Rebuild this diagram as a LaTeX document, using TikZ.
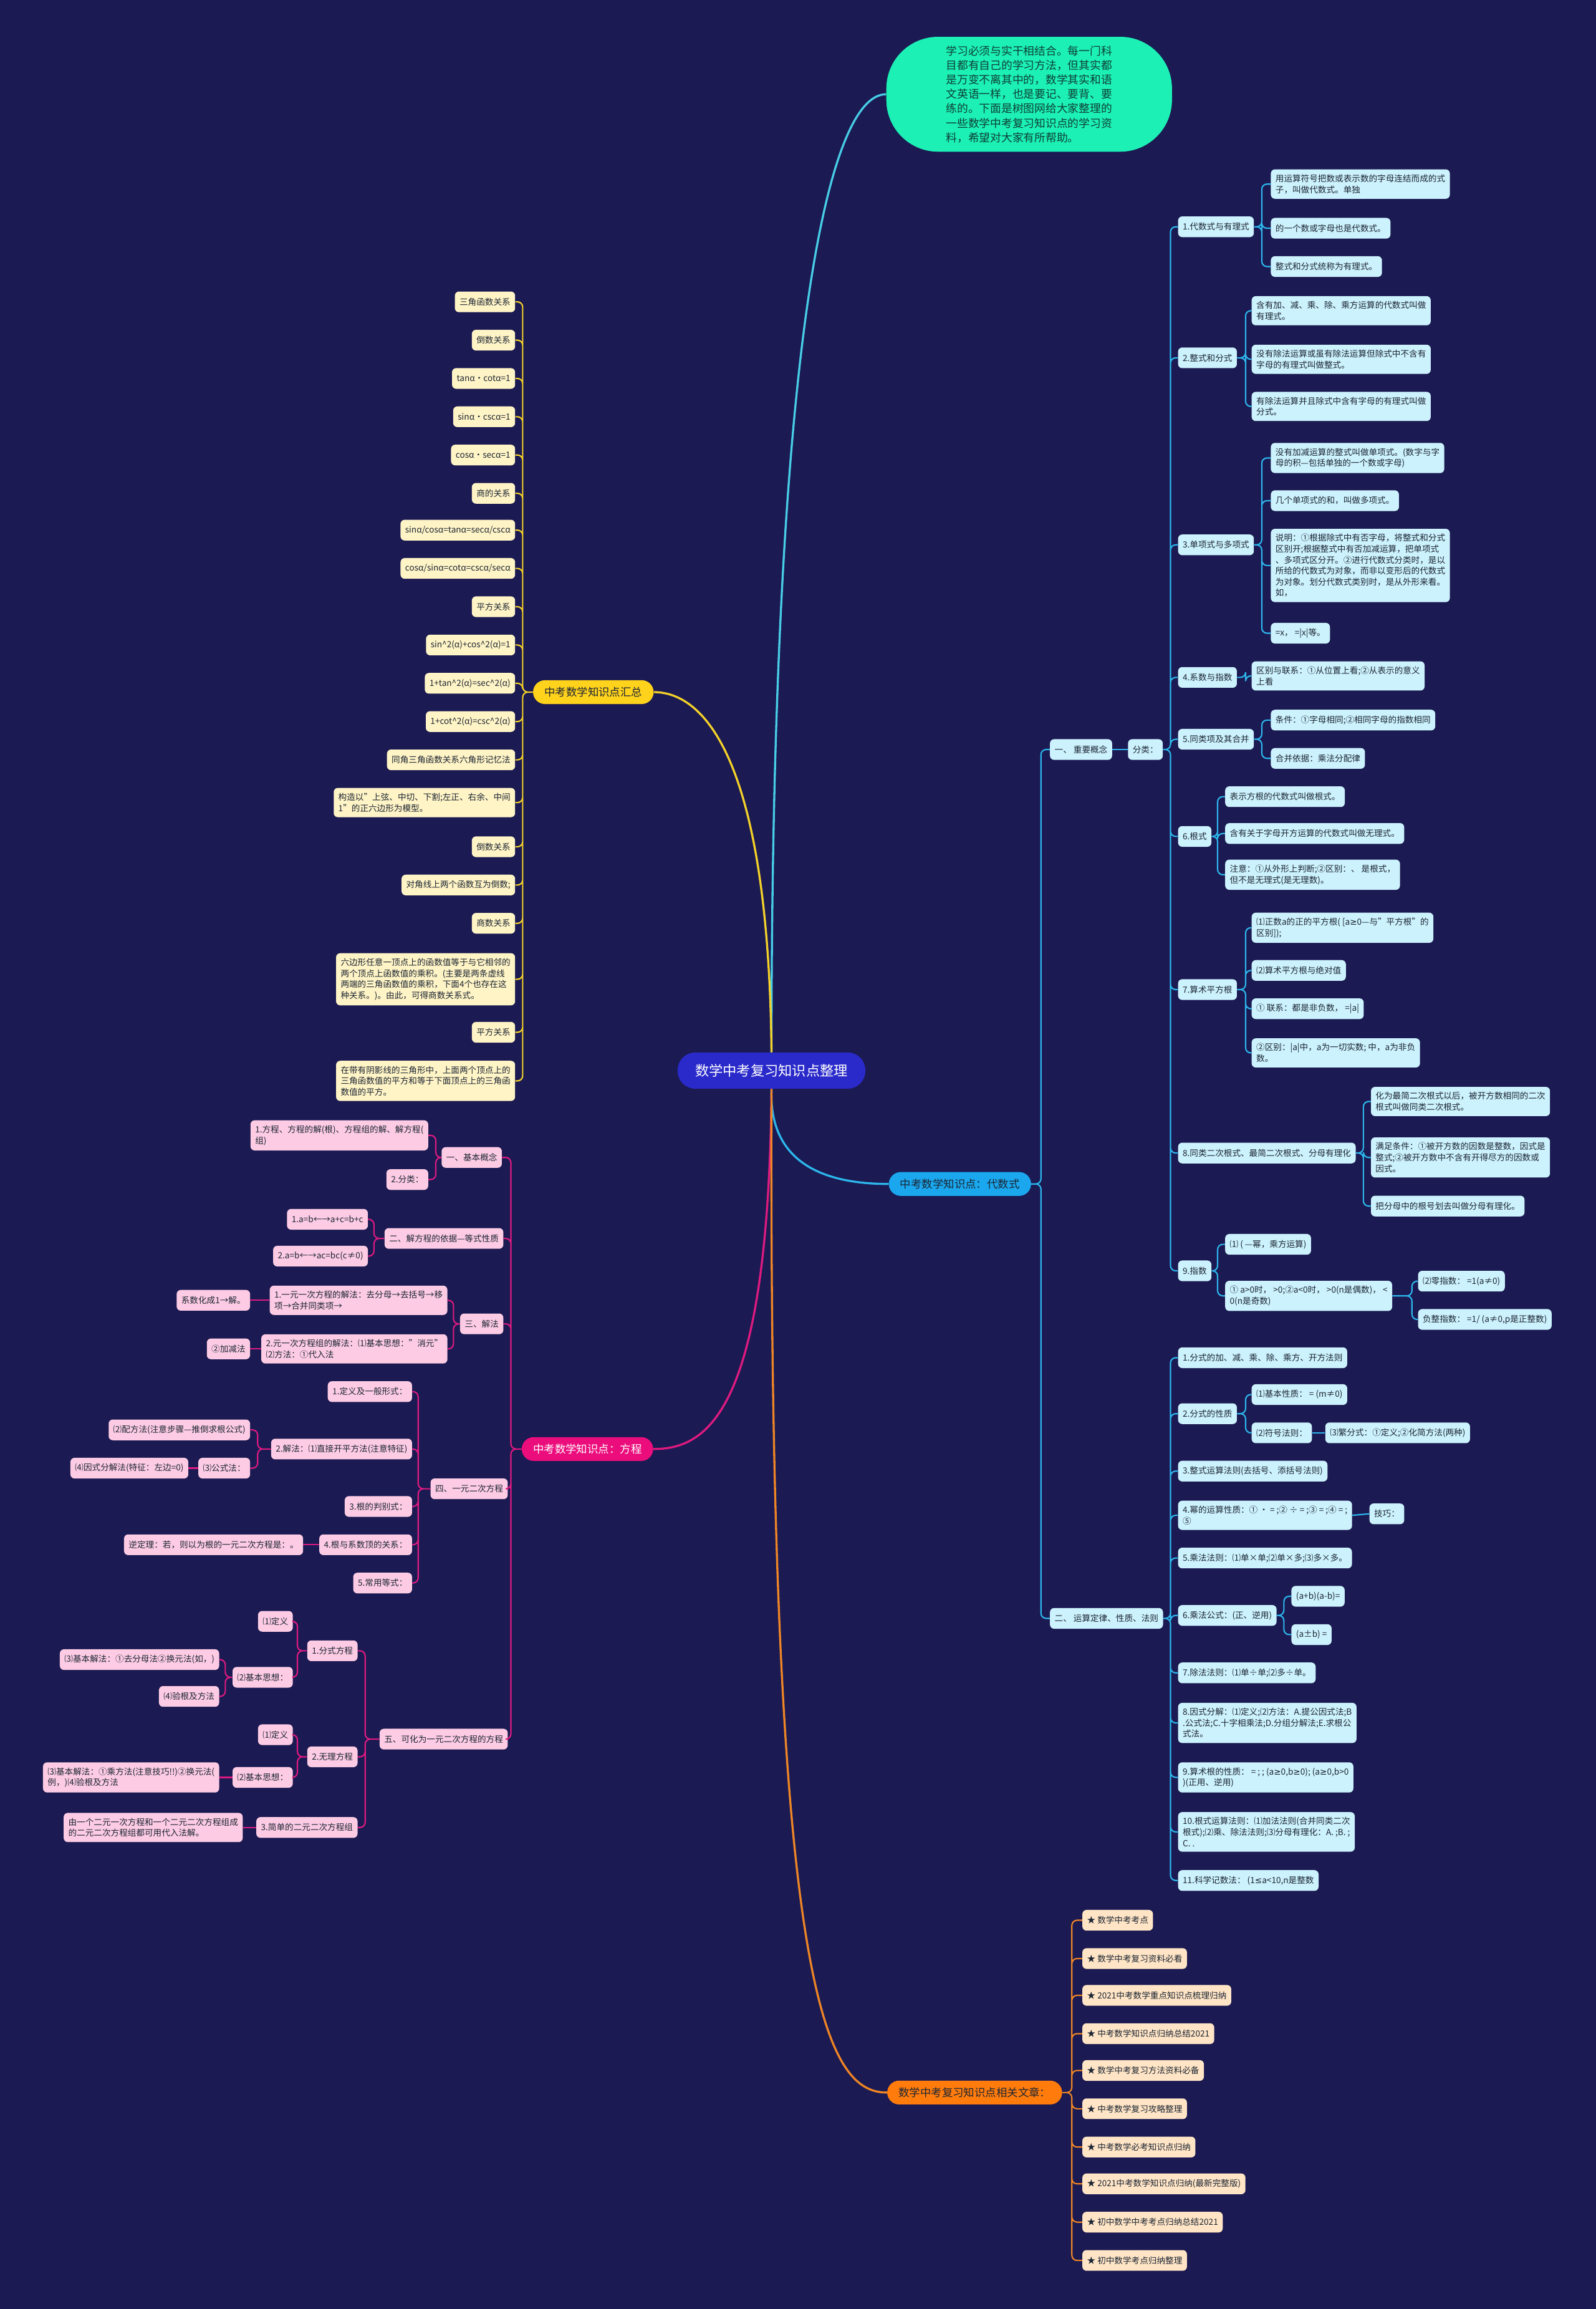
\documentclass[tikz,border=0pt]{standalone}
\usepackage{fontspec}
\setmainfont{Noto Sans CJK SC}
\newfontfamily\symf{DejaVu Sans}
\newcommand\geqs{{\symf ≥}}
\newcommand\leqs{{\symf ≤}}
\definecolor{navybg}{HTML}{1B1A52}
\definecolor{rootblue}{HTML}{2A2ACB}
\definecolor{mintfill}{HTML}{1CF0B5}
\definecolor{mintink}{HTML}{0E3F36}
\definecolor{inkdark}{HTML}{1C2533}
\definecolor{introline}{HTML}{48CDE6}
\definecolor{algblue}{HTML}{1AA7EE}
\definecolor{algfill}{HTML}{CCF2FD}
\definecolor{algline}{HTML}{2CB6EC}
\definecolor{sumgold}{HTML}{FFD21C}
\definecolor{sumfill}{HTML}{FFF4C6}
\definecolor{sumline}{HTML}{F3D12A}
\definecolor{eqpink}{HTML}{EC0D7D}
\definecolor{eqfill}{HTML}{FDCCE4}
\definecolor{eqline}{HTML}{DE1A80}
\definecolor{artorange}{HTML}{FF7B0C}
\definecolor{artfill}{HTML}{FFE5C6}
\definecolor{artline}{HTML}{EE8526}

\begin{document}
\begin{tikzpicture}[x=0.5mm, y=-0.5mm,
  every node/.style={font=\fontsize{8.2}{10.6}\selectfont, text=inkdark},
  leaf/.style={rounded corners=4pt, inner xsep=4.5pt, inner ysep=5pt, align=left, minimum height=20pt},
  algleaf/.style={leaf, fill=algfill},
  sumleaf/.style={leaf, fill=sumfill},
  eqleaf/.style={leaf, fill=eqfill},
  artleaf/.style={leaf, fill=artfill},
  branch/.style={rounded corners=11.5pt, minimum height=23pt, inner xsep=11pt, font=\fontsize{10.5}{12}\selectfont},
  algln/.style={draw=algline, line width=1.3pt, rounded corners=5pt},
  sumln/.style={draw=sumline, line width=1.3pt, rounded corners=5pt},
  eqln/.style={draw=eqline, line width=1.3pt, rounded corners=5pt},
  artln/.style={draw=artline, line width=1.3pt, rounded corners=5pt},
  elbow/.style={to path={-- (#1,0 |- \tikztostart) |- (\tikztotarget) \tikztonodes}}]
  \useasboundingbox (0,0) rectangle (1084,1568);
  \fill[navybg] (0,0) rectangle (1084,1568);

  % centre and intro
  \node[fill=rootblue, text=white, rounded corners=17pt, minimum height=35pt, inner xsep=17pt, font=\fontsize{13.4}{16}\selectfont] (root) at (524,727) {数学中考复习知识点整理};
  \node[fill=mintfill, text=mintink, rounded corners=50pt, minimum width=276pt, minimum height=111pt, align=left, font=\fontsize{10.7}{14}\selectfont] (intro) at (699,64) {学习必须与实干相结合。每一门科\\目都有自己的学习方法，但其实都\\是万变不离其中的，数学其实和语\\文英语一样，也是要记、要背、要\\练的。下面是树图网给大家整理的\\一些数学中考复习知识点的学习资\\料，希望对大家有所帮助。};

  % main branches
  \node[branch, fill=algblue] (alg) at (652,804) {中考数学知识点：代数式};
  \node[branch, fill=sumgold] (sum) at (403,470) {中考数学知识点汇总};
  \node[branch, fill=eqpink, text=white] (eq) at (399,984) {中考数学知识点：方程};
  \node[branch, fill=artorange] (art) at (662,1421) {数学中考复习知识点相关文章：};

  \draw[introline, line width=2pt] (root.north) .. controls (524,250) and (560,64) .. (intro.west);
  \draw[sumline, line width=2pt] (root.north) .. controls (522,520) and (480,470) .. (sum.east);
  \draw[algline, line width=2pt] (root.south) .. controls (522,790) and (560,804) .. (alg.west);
  \draw[eqline, line width=2pt] (root.south) .. controls (522,960) and (480,984) .. (eq.east);
  \draw[artline, line width=2pt] (root.south) .. controls (522,1350) and (560,1421) .. (art.west);

  % algebra: concepts
  \node[algleaf, anchor=west] (concept) at (713,509) {一、 重要概念};
  \node[algleaf, anchor=west] (classify) at (766,509) {分类：};
  \node[algleaf, anchor=west] (rules) at (713,1099) {二、 运算定律、性质、法则};
  \draw[algln] (alg.east) to[elbow=707] (concept.west) (alg.east) to[elbow=707] (rules.west);
  \draw[algln] (concept) -- (classify);

  \node[algleaf, anchor=west] (rational) at (800,154) {1.代数式与有理式};
  \node[algleaf, anchor=west] (rationalA) at (863,125) {用运算符号把数或表示数的字母连结而成的式\\子，叫做代数式。单独};
  \node[algleaf, anchor=west] (rationalB) at (863,155) {的一个数或字母也是代数式。};
  \node[algleaf, anchor=west] (rationalC) at (863,181) {整式和分式统称为有理式。};
  \node[algleaf, anchor=west] (integral) at (800,243) {2.整式和分式};
  \node[algleaf, anchor=west] (integralA) at (850,211) {含有加、减、乘、除、乘方运算的代数式叫做\\有理式。};
  \node[algleaf, anchor=west] (integralB) at (850,244) {没有除法运算或虽有除法运算但除式中不含有\\字母的有理式叫做整式。};
  \node[algleaf, anchor=west] (integralC) at (850,276) {有除法运算并且除式中含有字母的有理式叫做\\分式。};
  \node[algleaf, anchor=west] (monomial) at (800,370) {3.单项式与多项式};
  \node[algleaf, anchor=west] (monomialA) at (863,311) {没有加减运算的整式叫做单项式。(数字与字\\母的积—包括单独的一个数或字母)};
  \node[algleaf, anchor=west] (monomialB) at (863,340) {几个单项式的和，叫做多项式。};
  \node[algleaf, anchor=west] (monomialC) at (863,384) {说明：①根据除式中有否字母，将整式和分式\\区别开;根据整式中有否加减运算，把单项式\\、多项式区分开。②进行代数式分类时，是以\\所给的代数式为对象，而非以变形后的代数式\\为对象。划分代数式类别时，是从外形来看。\\如，};
  \node[algleaf, anchor=west] (monomialD) at (863,430) {=x， =|x|等。};
  \node[algleaf, anchor=west] (coeff) at (800,460) {4.系数与指数};
  \node[algleaf, anchor=west] (coeffA) at (850,459) {区别与联系：①从位置上看;②从表示的意义\\上看};
  \node[algleaf, anchor=west] (like) at (800,502) {5.同类项及其合并};
  \node[algleaf, anchor=west] (likeA) at (863,489) {条件：①字母相同;②相同字母的指数相同};
  \node[algleaf, anchor=west] (likeB) at (863,515) {合并依据：乘法分配律};
  \node[algleaf, anchor=west] (radical) at (800,568) {6.根式};
  \node[algleaf, anchor=west] (radicalA) at (832,541) {表示方根的代数式叫做根式。};
  \node[algleaf, anchor=west] (radicalB) at (832,566) {含有关于字母开方运算的代数式叫做无理式。};
  \node[algleaf, anchor=west] (radicalC) at (832,594) {注意：①从外形上判断;②区别：、 是根式，\\但不是无理式(是无理数)。};
  \node[algleaf, anchor=west] (sqroot) at (800,672) {7.算术平方根};
  \node[algleaf, anchor=west] (sqrootA) at (850,630) {⑴正数a的正的平方根( [a\geqs0—与"平方根"的\\区别]);};
  \node[algleaf, anchor=west] (sqrootB) at (850,659) {⑵算术平方根与绝对值};
  \node[algleaf, anchor=west] (sqrootC) at (850,685) {① 联系：都是非负数， =|a|};
  \node[algleaf, anchor=west] (sqrootD) at (850,715) {②区别：|a|中，a为一切实数; 中，a为非负\\数。};
  \node[algleaf, anchor=west] (surd) at (800,783) {8.同类二次根式、最简二次根式、分母有理化};
  \node[algleaf, anchor=west] (surdA) at (931,748) {化为最简二次根式以后，被开方数相同的二次\\根式叫做同类二次根式。};
  \node[algleaf, anchor=west] (surdB) at (931,786) {满足条件：①被开方数的因数是整数，因式是\\整式;②被开方数中不含有开得尽方的因数或\\因式。};
  \node[algleaf, anchor=west] (surdC) at (931,819) {把分母中的根号划去叫做分母有理化。};
  \node[algleaf, anchor=west] (expo) at (800,863) {9.指数};
  \node[algleaf, anchor=west] (expoA) at (832,845) {⑴ ( —幂，乘方运算)};
  \node[algleaf, anchor=west] (expoB) at (832,880) {① a>0时， >0;②a<0时， >0(n是偶数)， <\\0(n是奇数)};
  \node[algleaf, anchor=west] (expoC) at (963,870) {⑵零指数： =1(a≠0)};
  \node[algleaf, anchor=west] (expoD) at (963,896) {负整指数： =1/ (a≠0,p是正整数)};

  \draw[algln] (classify.east) to[elbow=795] (rational.west) (classify.east) to[elbow=795] (integral.west)
    (classify.east) to[elbow=795] (monomial.west) (classify.east) to[elbow=795] (coeff.west)
    (classify.east) to[elbow=795] (like.west) (classify.east) to[elbow=795] (radical.west)
    (classify.east) to[elbow=795] (sqroot.west) (classify.east) to[elbow=795] (surd.west)
    (classify.east) to[elbow=795] (expo.west);
  \draw[algln] (rational.east) to[elbow=857] (rationalA.west) (rational.east) to[elbow=857] (rationalB.west) (rational.east) to[elbow=857] (rationalC.west);
  \draw[algln] (integral.east) to[elbow=846] (integralA.west) (integral.east) to[elbow=846] (integralB.west) (integral.east) to[elbow=846] (integralC.west);
  \draw[algln] (monomial.east) to[elbow=857] (monomialA.west) (monomial.east) to[elbow=857] (monomialB.west) (monomial.east) to[elbow=857] (monomialC.west) (monomial.east) to[elbow=857] (monomialD.west);
  \draw[algln] (coeff.east) to[elbow=846] (coeffA.west);
  \draw[algln] (like.east) to[elbow=857] (likeA.west) (like.east) to[elbow=857] (likeB.west);
  \draw[algln] (radical.east) to[elbow=827] (radicalA.west) (radical.east) to[elbow=827] (radicalB.west) (radical.east) to[elbow=827] (radicalC.west);
  \draw[algln] (sqroot.east) to[elbow=846] (sqrootA.west) (sqroot.east) to[elbow=846] (sqrootB.west) (sqroot.east) to[elbow=846] (sqrootC.west) (sqroot.east) to[elbow=846] (sqrootD.west);
  \draw[algln] (surd.east) to[elbow=926] (surdA.west) (surd.east) to[elbow=926] (surdB.west) (surd.east) to[elbow=926] (surdC.west);
  \draw[algln] (expo.east) to[elbow=827] (expoA.west) (expo.east) to[elbow=827] (expoB.west);
  \draw[algln] (expoB.east) to[elbow=959] (expoC.west) (expoB.east) to[elbow=959] (expoD.west);

  % algebra: rules
  \node[algleaf, anchor=west] (fracops) at (800,922) {1.分式的加、减、乘、除、乘方、开方法则};
  \node[algleaf, anchor=west] (fracprop) at (800,960) {2.分式的性质};
  \node[algleaf, anchor=west] (fracpropA) at (850,947) {⑴基本性质：  = (m≠0)};
  \node[algleaf, anchor=west] (fracpropB) at (850,973) {⑵符号法则：};
  \node[algleaf, anchor=west] (fracpropC) at (900,973) {⑶繁分式：①定义;②化简方法(两种)};
  \node[algleaf, anchor=west] (polyops) at (800,999) {3.整式运算法则(去括号、添括号法则)};
  \node[algleaf, anchor=west] (power) at (800,1029) {4.幂的运算性质：① · = ;② ÷ = ;③ = ;④ = ;\\⑤};
  \node[algleaf, anchor=west] (powerA) at (930,1028) {技巧：};
  \node[algleaf, anchor=west] (multrule) at (800,1058) {5.乘法法则：⑴单×单;⑵单×多;⑶多×多。};
  \node[algleaf, anchor=west] (multform) at (800,1097) {6.乘法公式：(正、逆用)};
  \node[algleaf, anchor=west] (multformA) at (877,1084) {(a+b)(a-b)=};
  \node[algleaf, anchor=west] (multformB) at (877,1110) {(a±b) =};
  \node[algleaf, anchor=west] (divrule) at (800,1136) {7.除法法则：⑴单÷单;⑵多÷单。};
  \node[algleaf, anchor=west] (factor) at (800,1170) {8.因式分解：⑴定义;⑵方法：A.提公因式法;B\\.公式法;C.十字相乘法;D.分组分解法;E.求根公\\式法。};
  \node[algleaf, anchor=west] (rootprop) at (800,1207) {9.算术根的性质： = ; ; (a\geqs0,b\geqs0); (a\geqs0,b>0\\)(正用、逆用)};
  \node[algleaf, anchor=west] (rootops) at (800,1244) {10.根式运算法则：⑴加法法则(合并同类二次\\根式);⑵乘、除法法则;⑶分母有理化：A. ;B. ;\\C. .};
  \node[algleaf, anchor=west] (scinot) at (800,1277) {11.科学记数法： (1\leqs a<10,n是整数};

  \draw[algln] (rules.east) to[elbow=795] (fracops.west) (rules.east) to[elbow=795] (fracprop.west)
    (rules.east) to[elbow=795] (polyops.west) (rules.east) to[elbow=795] (power.west)
    (rules.east) to[elbow=795] (multrule.west) (rules.east) to[elbow=795] (multform.west)
    (rules.east) to[elbow=795] (divrule.west) (rules.east) to[elbow=795] (factor.west)
    (rules.east) to[elbow=795] (rootprop.west) (rules.east) to[elbow=795] (rootops.west)
    (rules.east) to[elbow=795] (scinot.west);
  \draw[algln] (fracprop.east) to[elbow=846] (fracpropA.west) (fracprop.east) to[elbow=846] (fracpropB.west);
  \draw[algln] (fracpropB) -- (fracpropC);
  \draw[algln] (power.east) -- (powerA.west);
  \draw[algln] (multform.east) to[elbow=872] (multformA.west) (multform.east) to[elbow=872] (multformB.west);

  % related articles
  \node[artleaf, anchor=west] (art1) at (735,1304) {★ 数学中考考点};
  \node[artleaf, anchor=west] (art2) at (735,1330) {★ 数学中考复习资料必看};
  \node[artleaf, anchor=west] (art3) at (735,1355) {★ 2021中考数学重点知识点梳理归纳};
  \node[artleaf, anchor=west] (art4) at (735,1381) {★ 中考数学知识点归纳总结2021};
  \node[artleaf, anchor=west] (art5) at (735,1406) {★ 数学中考复习方法资料必备};
  \node[artleaf, anchor=west] (art6) at (735,1432) {★ 中考数学复习攻略整理};
  \node[artleaf, anchor=west] (art7) at (735,1458) {★ 中考数学必考知识点归纳};
  \node[artleaf, anchor=west] (art8) at (735,1483) {★ 2021中考数学知识点归纳(最新完整版)};
  \node[artleaf, anchor=west] (art9) at (735,1509) {★ 初中数学中考考点归纳总结2021};
  \node[artleaf, anchor=west] (art10) at (735,1535) {★ 初中数学考点归纳整理};
  \draw[artln] (art.east) to[elbow=728] (art1.west) (art.east) to[elbow=728] (art2.west)
    (art.east) to[elbow=728] (art3.west) (art.east) to[elbow=728] (art4.west)
    (art.east) to[elbow=728] (art5.west) (art.east) to[elbow=728] (art6.west)
    (art.east) to[elbow=728] (art7.west) (art.east) to[elbow=728] (art8.west)
    (art.east) to[elbow=728] (art9.west) (art.east) to[elbow=728] (art10.west);

  % trigonometry summary
  \node[sumleaf, anchor=east] (trig1) at (350,205) {三角函数关系};
  \node[sumleaf, anchor=east] (trig2) at (350,231) {倒数关系};
  \node[sumleaf, anchor=east] (trig3) at (350,257) {tanα·cotα=1};
  \node[sumleaf, anchor=east] (trig4) at (350,283) {sinα·cscα=1};
  \node[sumleaf, anchor=east] (trig5) at (350,309) {cosα·secα=1};
  \node[sumleaf, anchor=east] (trig6) at (350,335) {商的关系};
  \node[sumleaf, anchor=east] (trig7) at (350,360) {sinα/cosα=tanα=secα/cscα};
  \node[sumleaf, anchor=east] (trig8) at (350,386) {cosα/sinα=cotα=cscα/secα};
  \node[sumleaf, anchor=east] (trig9) at (350,412) {平方关系};
  \node[sumleaf, anchor=east] (trig10) at (350,438) {sin\textasciicircum2(α)+cos\textasciicircum2(α)=1};
  \node[sumleaf, anchor=east] (trig11) at (350,464) {1+tan\textasciicircum2(α)=sec\textasciicircum2(α)};
  \node[sumleaf, anchor=east] (trig12) at (350,490) {1+cot\textasciicircum2(α)=csc\textasciicircum2(α)};
  \node[sumleaf, anchor=east] (trig13) at (350,516) {同角三角函数关系六角形记忆法};
  \node[sumleaf, anchor=east] (trig14) at (350,545) {构造以"上弦、中切、下割;左正、右余、中间\\1"的正六边形为模型。};
  \node[sumleaf, anchor=east] (trig15) at (350,575) {倒数关系};
  \node[sumleaf, anchor=east] (trig16) at (350,601) {对角线上两个函数互为倒数;};
  \node[sumleaf, anchor=east] (trig17) at (350,627) {商数关系};
  \node[sumleaf, anchor=east] (trig18) at (350,665) {六边形任意一顶点上的函数值等于与它相邻的\\两个顶点上函数值的乘积。(主要是两条虚线\\两端的三角函数值的乘积，下面4个也存在这\\种关系。)。由此，可得商数关系式。};
  \node[sumleaf, anchor=east] (trig19) at (350,701) {平方关系};
  \node[sumleaf, anchor=east] (trig20) at (350,734) {在带有阴影线的三角形中，上面两个顶点上的\\三角函数值的平方和等于下面顶点上的三角函\\数值的平方。};
  \draw[sumln] (sum.west) to[elbow=355] (trig1.east) (sum.west) to[elbow=355] (trig2.east)
    (sum.west) to[elbow=355] (trig3.east) (sum.west) to[elbow=355] (trig4.east)
    (sum.west) to[elbow=355] (trig5.east) (sum.west) to[elbow=355] (trig6.east)
    (sum.west) to[elbow=355] (trig7.east) (sum.west) to[elbow=355] (trig8.east)
    (sum.west) to[elbow=355] (trig9.east) (sum.west) to[elbow=355] (trig10.east)
    (sum.west) to[elbow=355] (trig11.east) (sum.west) to[elbow=355] (trig12.east)
    (sum.west) to[elbow=355] (trig13.east) (sum.west) to[elbow=355] (trig14.east)
    (sum.west) to[elbow=355] (trig15.east) (sum.west) to[elbow=355] (trig16.east)
    (sum.west) to[elbow=355] (trig17.east) (sum.west) to[elbow=355] (trig18.east)
    (sum.west) to[elbow=355] (trig19.east) (sum.west) to[elbow=355] (trig20.east);

  % equations
  \node[eqleaf, anchor=east] (basic) at (341,786) {一、基本概念};
  \node[eqleaf, anchor=east] (basicA) at (291,771) {1.方程、方程的解(根)、方程组的解、解方程(\\组)};
  \node[eqleaf, anchor=east] (basicB) at (291,801) {2.分类：};
  \node[eqleaf, anchor=east] (basis) at (342,841) {二、解方程的依据—等式性质};
  \node[eqleaf, anchor=east] (basisA) at (250,828) {1.a=b←→a+c=b+c};
  \node[eqleaf, anchor=east] (basisB) at (250,853) {2.a=b←→ac=bc(c≠0)};
  \node[eqleaf, anchor=east] (solve) at (342,899) {三、解法};
  \node[eqleaf, anchor=east] (solveA) at (304,883) {1.一元一次方程的解法：去分母→去括号→移\\项→合并同类项→};
  \node[eqleaf, anchor=east] (solveA1) at (170,883) {系数化成1→解。};
  \node[eqleaf, anchor=east] (solveB) at (304,916) {2.元一次方程组的解法：⑴基本思想："消元"\\⑵方法：①代入法};
  \node[eqleaf, anchor=east] (solveB1) at (170,916) {②加减法};
  \node[eqleaf, anchor=east] (quad) at (345,1011) {四、一元二次方程};
  \node[eqleaf, anchor=east] (quadA) at (280,945) {1.定义及一般形式：};
  \node[eqleaf, anchor=east] (quadB) at (280,984) {2.解法：⑴直接开平方法(注意特征)};
  \node[eqleaf, anchor=east] (quadB1) at (170,971) {⑵配方法(注意步骤—推倒求根公式)};
  \node[eqleaf, anchor=east] (quadB2) at (170,997) {⑶公式法：};
  \node[eqleaf, anchor=east] (quadB3) at (128,997) {⑷因式分解法(特征：左边=0)};
  \node[eqleaf, anchor=east] (quadC) at (280,1023) {3.根的判别式：};
  \node[eqleaf, anchor=east] (quadD) at (280,1049) {4.根与系数顶的关系：};
  \node[eqleaf, anchor=east] (quadD1) at (206,1049) {逆定理：若，则以为根的一元二次方程是：。};
  \node[eqleaf, anchor=east] (quadE) at (280,1075) {5.常用等式：};
  \node[eqleaf, anchor=east] (reduce) at (345,1181) {五、可化为一元二次方程的方程};
  \node[eqleaf, anchor=east] (fraceq) at (243,1121) {1.分式方程};
  \node[eqleaf, anchor=east] (fraceqA) at (199,1101) {⑴定义};
  \node[eqleaf, anchor=east] (fraceqB) at (199,1139) {⑵基本思想：};
  \node[eqleaf, anchor=east] (fraceqB1) at (149,1127) {⑶基本解法：①去分母法②换元法(如，)};
  \node[eqleaf, anchor=east] (fraceqB2) at (149,1152) {⑷验根及方法};
  \node[eqleaf, anchor=east] (irreq) at (243,1193) {2.无理方程};
  \node[eqleaf, anchor=east] (irreqA) at (199,1178) {⑴定义};
  \node[eqleaf, anchor=east] (irreqB) at (199,1207) {⑵基本思想：};
  \node[eqleaf, anchor=east] (irreqB1) at (149,1207) {⑶基本解法：①乘方法(注意技巧!!)②换元法(\\例，)⑷验根及方法};
  \node[eqleaf, anchor=east] (system) at (243,1241) {3.简单的二元二次方程组};
  \node[eqleaf, anchor=east] (systemA) at (165,1241) {由一个二元一次方程和一个二元二次方程组成\\的二元二次方程组都可用代入法解。};

  \draw[eqln] (eq.west) to[elbow=347] (basic.east) (eq.west) to[elbow=347] (basis.east)
    (eq.west) to[elbow=347] (solve.east) (eq.west) to[elbow=347] (quad.east)
    (eq.west) to[elbow=347] (reduce.east);
  \draw[eqln] (basic.west) to[elbow=296] (basicA.east) (basic.west) to[elbow=296] (basicB.east);
  \draw[eqln] (basis.west) to[elbow=254] (basisA.east) (basis.west) to[elbow=254] (basisB.east);
  \draw[eqln] (solve.west) to[elbow=308] (solveA.east) (solve.west) to[elbow=308] (solveB.east);
  \draw[eqln] (solveA.west) -- (solveA1.east);
  \draw[eqln] (solveB.west) -- (solveB1.east);
  \draw[eqln] (quad.west) to[elbow=284] (quadA.east) (quad.west) to[elbow=284] (quadB.east)
    (quad.west) to[elbow=284] (quadC.east) (quad.west) to[elbow=284] (quadD.east)
    (quad.west) to[elbow=284] (quadE.east);
  \draw[eqln] (quadB.west) to[elbow=175] (quadB1.east) (quadB.west) to[elbow=175] (quadB2.east);
  \draw[eqln] (quadB2.west) -- (quadB3.east);
  \draw[eqln] (quadD.west) -- (quadD1.east);
  \draw[eqln] (reduce.west) to[elbow=248] (fraceq.east) (reduce.west) to[elbow=248] (irreq.east)
    (reduce.west) to[elbow=248] (system.east);
  \draw[eqln] (fraceq.west) to[elbow=202] (fraceqA.east) (fraceq.west) to[elbow=202] (fraceqB.east);
  \draw[eqln] (fraceqB.west) to[elbow=153] (fraceqB1.east) (fraceqB.west) to[elbow=153] (fraceqB2.east);
  \draw[eqln] (irreq.west) to[elbow=202] (irreqA.east) (irreq.west) to[elbow=202] (irreqB.east);
  \draw[eqln] (irreqB.west) -- (irreqB1.east);
  \draw[eqln] (system.west) -- (systemA.east);
\end{tikzpicture}
\end{document}
